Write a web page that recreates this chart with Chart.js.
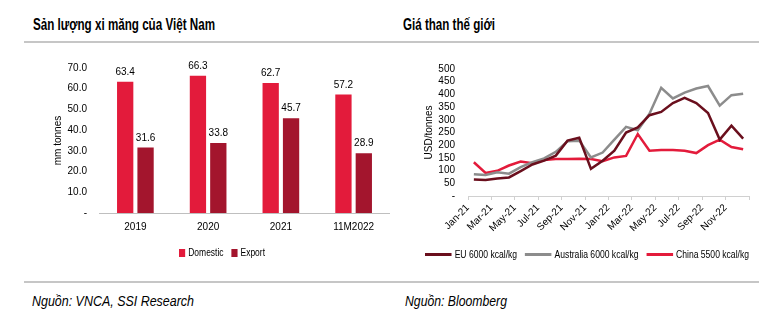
<!DOCTYPE html>
<html>
<head>
<meta charset="utf-8">
<script src="https://cdn.jsdelivr.net/npm/chart.js@4.4.0/dist/chart.umd.min.js"></script>
<style>
  body { margin: 0; width: 779px; height: 326px; background: #fff; position: relative; overflow: hidden;
         font-family: "Liberation Sans", Arial, sans-serif; color: #000; }
  .fit { position: absolute; white-space: nowrap; transform-origin: left center; }
  .title { top: 17px; font-weight: bold; font-size: 16px; line-height: 1; }
  .rule { position: absolute; left: 24px; width: 735px; height: 0; border-top: 2px solid #c6c6c6; }
  .src { top: 294px; font-style: italic; font-size: 14px; line-height: 1; }
  .box { position: absolute; top: 50px; height: 215px; }
  .legend { display: flex; align-items: center; font-size: 11px; line-height: 1; }
  .legend .item { display: flex; align-items: center; margin-right: 10px; }
  .legend .item:last-child { margin-right: 0; }
  .legend .sw { display: inline-block; margin-right: 4px; }
</style>
</head>
<body>
<div class="fit title" style="left:33px" data-w="182">Sản lượng xi măng của Việt Nam</div>
<div class="fit title" style="left:403px" data-w="92">Giá than thế giới</div>
<div class="rule" style="top:41px"></div>
<div class="box" style="left:24px;width:366px"><canvas id="cementChart"></canvas></div>
<div class="box" style="left:390px;width:379px"><canvas id="coalChart"></canvas></div>
<div class="fit legend" id="cementLegend" style="left:179px;top:247px" data-w="86"></div>
<div class="fit legend" id="coalLegend" style="left:425px;top:249px" data-w="324"></div>
<div class="rule" style="top:281px"></div>
<div class="fit src" style="left:32px" data-w="162">Nguồn: VNCA, SSI Research</div>
<div class="fit src" style="left:405px" data-w="102">Nguồn: Bloomberg</div>

<script>
// Sản lượng xi măng (triệu tấn)
const cementYears = ['2019', '2020', '2021', '11M2022'];
const domesticVals = [63.4, 66.3, 62.7, 57.2];
const exportVals = [31.6, 33.8, 45.7, 28.9];

// Giá than (USD/tấn), Jan-21 .. Dec-22
const coalMonths = ['Jan-21', 'Feb-21', 'Mar-21', 'Apr-21', 'May-21', 'Jun-21', 'Jul-21', 'Aug-21',
  'Sep-21', 'Oct-21', 'Nov-21', 'Dec-21', 'Jan-22', 'Feb-22', 'Mar-22', 'Apr-22', 'May-22', 'Jun-22',
  'Jul-22', 'Aug-22', 'Sep-22', 'Oct-22', 'Nov-22', 'Dec-22'];
const euPrice = [65, 63, 69, 73, 98, 124, 139, 159, 218, 229, 107, 139, 178, 250, 270, 318, 331, 366, 386, 366, 327, 222, 277, 226];
const ausPrice = [86, 83, 93, 88, 114, 133, 148, 174, 216, 218, 152, 171, 222, 272, 259, 324, 426, 384, 407, 423, 433, 356, 397, 403];
const chinaPrice = [133, 91, 99, 120, 136, 129, 142, 146, 146, 147, 146, 137, 152, 158, 244, 178, 181, 181, 178, 169, 200, 222, 193, 184];

const FONT = '"Liberation Sans", Arial, sans-serif';
Chart.defaults.font.family = FONT;
Chart.defaults.font.size = 10;
Chart.defaults.color = '#000';

// nhãn giá trị trên đầu cột
const barValueLabels = {
  id: 'barValueLabels',
  afterDatasetsDraw(chart) {
    const ctx = chart.ctx;
    ctx.save();
    ctx.font = '10px ' + FONT;
    ctx.fillStyle = '#000';
    ctx.textAlign = 'center';
    ctx.textBaseline = 'alphabetic';
    chart.data.datasets.forEach((ds, i) => {
      chart.getDatasetMeta(i).data.forEach((bar, j) => {
        ctx.fillText(ds.data[j].toFixed(1), bar.x, bar.y - 7);
      });
    });
    ctx.restore();
  }
};

const cementChart = new Chart(document.getElementById('cementChart'), {
  type: 'bar',
  data: {
    labels: cementYears,
    datasets: [
      { label: 'Domestic', data: domesticVals, backgroundColor: '#E31B3B' },
      { label: 'Export', data: exportVals, backgroundColor: '#A3152D' }
    ]
  },
  options: {
    responsive: true,
    maintainAspectRatio: false,
    animation: false,
    categoryPercentage: 0.56,
    barPercentage: 0.8,
    layout: { padding: { left: 0, top: 17, right: 0, bottom: 22 } },
    plugins: { tooltip: { enabled: false }, legend: { display: false } },
    scales: {
      x: {
        afterFit(scale) { scale.height = 30; },
        grid: { display: true, drawOnChartArea: false, drawTicks: false },
        border: { display: true, color: '#bfbfbf', width: 1 },
        ticks: { padding: 8, color: '#000' }
      },
      y: {
        min: 0,
        max: 70,
        afterFit(scale) { scale.width = 75; },
        grid: { display: false, drawTicks: false },
        border: { display: false },
        ticks: {
          stepSize: 10,
          autoSkip: false,
          padding: 12,
          color: '#000',
          callback: v => v === 0 ? '-' : v.toFixed(1)
        },
        title: { display: true, text: 'mm tonnes', color: '#000', padding: { top: 28.5, bottom: 0 } }
      }
    }
  },
  plugins: [barValueLabels]
});

const coalChart = new Chart(document.getElementById('coalChart'), {
  type: 'line',
  data: {
    labels: coalMonths,
    datasets: [
      { label: 'EU 6000 kcal/kg', data: euPrice, borderColor: '#6A0F1D', backgroundColor: '#6A0F1D' },
      { label: 'Australia 6000 kcal/kg', data: ausPrice, borderColor: '#8C8C8C', backgroundColor: '#8C8C8C' },
      { label: 'China 5500 kcal/kg', data: chinaPrice, borderColor: '#E31B3B', backgroundColor: '#E31B3B' }
    ]
  },
  options: {
    responsive: true,
    maintainAspectRatio: false,
    animation: false,
    elements: {
      line: { borderWidth: 2.5, tension: 0 },
      point: { radius: 0 }
    },
    layout: { padding: { left: 0, top: 16, right: 20, bottom: 33 } },
    plugins: { tooltip: { enabled: false }, legend: { display: false } },
    scales: {
      x: {
        offset: true,
        afterFit(scale) { scale.height = 36; },
        grid: {
          display: true,
          offset: true,
          drawOnChartArea: false,
          tickLength: 4,
          tickColor: c => (c.index === undefined || c.index % 2 === 0) ? '#d0d0d0' : 'rgba(0,0,0,0)'
        },
        border: { display: true, color: '#d0d0d0', width: 1 },
        ticks: {
          autoSkip: false,
          maxRotation: 45,
          minRotation: 45,
          labelOffset: -6,
          padding: 2,
          color: '#000',
          callback: function (v, i) { return i % 2 === 0 ? this.getLabelForValue(v) : ''; }
        }
      },
      y: {
        min: 0,
        max: 500,
        afterFit(scale) { scale.width = 78; },
        grid: { display: false, drawTicks: false },
        border: { display: false },
        ticks: {
          stepSize: 50,
          autoSkip: false,
          padding: 13,
          color: '#000',
          callback: v => v === 0 ? '-' : v
        },
        title: { display: true, text: 'USD/tonnes', color: '#000', padding: { top: 33.5, bottom: 0 } }
      }
    }
  }
});

// chú thích dựng từ dữ liệu của biểu đồ
function buildLegend(chart, el, isLine) {
  chart.data.datasets.forEach(ds => {
    const item = document.createElement('span');
    item.className = 'item';
    const sw = document.createElement('span');
    sw.className = 'sw';
    sw.style.background = ds.backgroundColor;
    sw.style.width = isLine ? '34px' : '8px';
    sw.style.height = isLine ? '3px' : '8px';
    item.appendChild(sw);
    item.appendChild(document.createTextNode(ds.label));
    el.appendChild(item);
  });
}
buildLegend(cementChart, document.getElementById('cementLegend'), false);
buildLegend(coalChart, document.getElementById('coalLegend'), true);

// co chữ theo chiều ngang cho giống font hẹp của bản gốc
document.querySelectorAll('.fit').forEach(el => {
  const w = el.getBoundingClientRect().width;
  el.style.transform = 'scaleX(' + (Number(el.dataset.w) / w) + ')';
});
</script>
</body>
</html>
